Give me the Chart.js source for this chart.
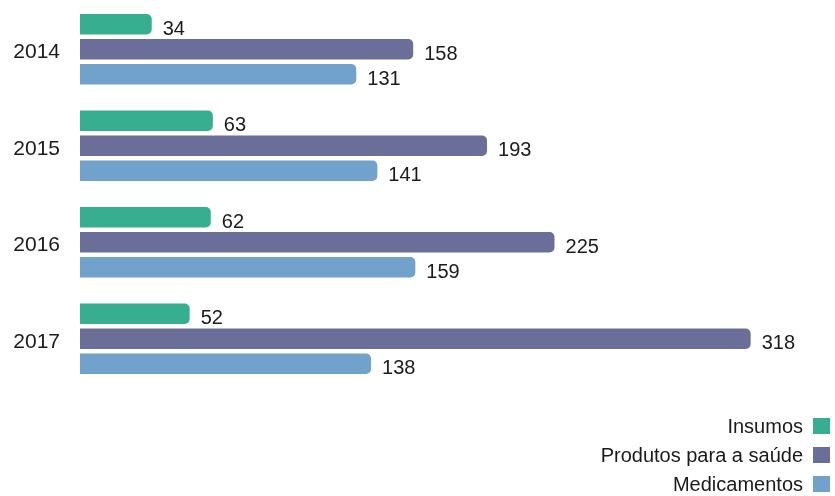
<!DOCTYPE html>
<html>
<head>
<meta charset="utf-8">
<script src="https://cdn.jsdelivr.net/npm/chart.js@4/dist/chart.umd.min.js"></script>
<style>
  html, body { margin: 0; padding: 0; background: #ffffff; }
  #wrap { width: 835px; height: 496px; position: relative; }
</style>
</head>
<body>
<div id="wrap"><canvas id="chart"></canvas></div>
<script>
// Anos e séries (valores por categoria)
const years = ['2014', '2015', '2016', '2017'];
const insumos = [34, 63, 62, 52];
const produtosSaude = [158, 193, 225, 318];
const medicamentos = [131, 141, 159, 138];

const seriesNames = ['Insumos', 'Produtos para a saúde', 'Medicamentos'];
const seriesColors = ['#36AE8F', '#6B6E99', '#71A2CB'];

const FONT = '"Liberation Sans", Arial, sans-serif';
const TEXT = '#1a1a1a';

// Rótulos de valor à direita de cada barra
const valueLabels = {
  id: 'valueLabels',
  afterDatasetsDraw(chart) {
    const ctx = chart.ctx;
    ctx.save();
    ctx.font = '20px ' + FONT;
    ctx.fillStyle = TEXT;
    ctx.textAlign = 'left';
    ctx.textBaseline = 'alphabetic';
    chart.data.datasets.forEach((ds, i) => {
      chart.getDatasetMeta(i).data.forEach((bar, j) => {
        ctx.fillText(String(ds.data[j]), bar.x + 11, bar.y + 10.5);
      });
    });
    ctx.restore();
  }
};

// Legenda em coluna, alinhada à direita, com o quadrado após o texto
const columnLegend = {
  id: 'columnLegend',
  afterDraw(chart) {
    const ctx = chart.ctx;
    const area = chart.chartArea;
    ctx.save();
    ctx.font = '20px ' + FONT;
    ctx.textAlign = 'right';
    ctx.textBaseline = 'alphabetic';
    chart.data.datasets.forEach((ds, i) => {
      const base = area.bottom + 46 + i * 29;
      ctx.fillStyle = TEXT;
      ctx.fillText(ds.label, 803, base);
      ctx.fillStyle = ds.backgroundColor;
      ctx.fillRect(813, base - 15, 17, 16);
    });
    ctx.restore();
  }
};

const seriesData = [insumos, produtosSaude, medicamentos];

new Chart(document.getElementById('chart'), {
  type: 'bar',
  data: {
    labels: years,
    datasets: seriesData.map((values, i) => ({
      label: seriesNames[i],
      data: values,
      backgroundColor: seriesColors[i],
      borderWidth: 0,
      borderRadius: 5,
      borderSkipped: 'start',
      categoryPercentage: 0.777,
      barPercentage: 0.82
    }))
  },
  options: {
    indexAxis: 'y',
    responsive: true,
    maintainAspectRatio: false,
    animation: false,
    layout: { padding: { top: 1, right: 0, bottom: 109, left: 0 } },
    plugins: {
      legend: { display: false },
      tooltip: { enabled: false }
    },
    scales: {
      x: {
        display: false,
        min: 0,
        max: 358
      },
      y: {
        grid: { display: false, drawTicks: false },
        border: { display: false },
        ticks: {
          color: TEXT,
          font: { family: FONT, size: 21 },
          padding: 20,
          labelOffset: 3
        },
        afterFit(scale) {
          scale.width = 80;
          scale.paddingTop = 0;
          scale.paddingBottom = 0;
        }
      }
    }
  },
  plugins: [valueLabels, columnLegend]
});
</script>
</body>
</html>
